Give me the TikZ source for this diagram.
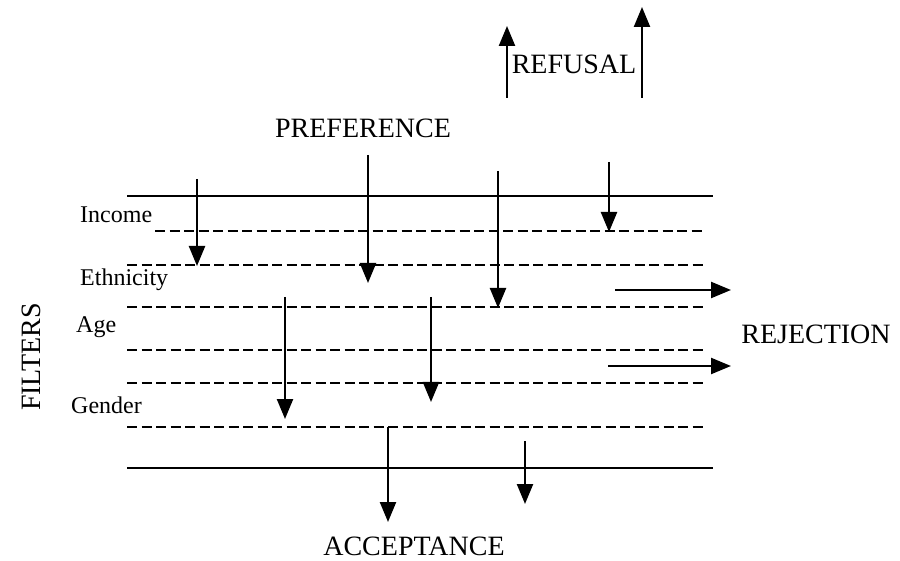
\documentclass[tikz,border=0pt]{standalone}
\usepackage{fontspec}
\setmainfont{Liberation Serif}
\usetikzlibrary{arrows.meta}
\begin{document}
\begin{tikzpicture}[x=1pt,y=-1pt,
  solidline/.style={line width=2.8pt},
  dashline/.style={line width=2.8pt,dash pattern=on 10pt off 4.5pt},
  flow/.style={line width=2.3pt,-{Triangle[length=20pt,width=16pt]}},
  biglabel/.style={font=\fontsize{28}{30}\selectfont,inner sep=0pt},
  filterlabel/.style={font=\fontsize{24}{26}\selectfont,inner sep=0pt,anchor=west}]
\useasboundingbox (0,0) rectangle (900,561);
% labels
\node[biglabel] (refusal) at (574,64) {REFUSAL};
\node[biglabel] (preference) at (363,128) {PREFERENCE};
\node[biglabel] (rejection) at (816,334) {REJECTION};
\node[biglabel] (acceptance) at (414,546) {ACCEPTANCE};
\node[biglabel,rotate=90] (filters) at (31,357) {FILTERS};
\node[filterlabel] (income) at (80,215) {Income};
\node[filterlabel] (ethnicity) at (80,280) {Ethnicity};
\node[filterlabel] (age) at (76,327) {Age};
\node[filterlabel] (gender) at (71,405) {Gender};
% filter lines
\coordinate (t1) at (127,196); \coordinate (t2) at (713,196);
\coordinate (b1) at (127,468); \coordinate (b2) at (713,468);
\draw[solidline] (t1) -- (t2);
\draw[solidline] (b1) -- (b2);
\coordinate (d1a) at (155,231); \coordinate (d1b) at (705,231);
\coordinate (d2a) at (127,265); \coordinate (d2b) at (705,265);
\coordinate (d3a) at (127,307); \coordinate (d3b) at (705,307);
\coordinate (d4a) at (127,350); \coordinate (d4b) at (705,350);
\coordinate (d5a) at (127,383); \coordinate (d5b) at (705,383);
\coordinate (d6a) at (127,427); \coordinate (d6b) at (705,427);
\foreach \d in {d1,d2,d3,d4,d5,d6} \draw[dashline] (\d a) -- (\d b);
% downward flow arrows
\coordinate (a1s) at (197,179); \coordinate (a1e) at (197,266);
\coordinate (a2s) at (368,155); \coordinate (a2e) at (368,283);
\coordinate (a3s) at (498,171); \coordinate (a3e) at (498,308);
\coordinate (a4s) at (609,162); \coordinate (a4e) at (609,232);
\coordinate (a5s) at (285,297); \coordinate (a5e) at (285,419);
\coordinate (a6s) at (431,297); \coordinate (a6e) at (431,402);
\coordinate (a7s) at (388,427); \coordinate (a7e) at (388,522);
\coordinate (a8s) at (525,441); \coordinate (a8e) at (525,504);
\foreach \a in {a1,a2,a3,a4,a5,a6,a7,a8} \draw[flow] (\a s) -- (\a e);
% refusal arrows
\coordinate (r1s) at (507,98); \coordinate (r1e) at (507,26);
\coordinate (r2s) at (642,98); \coordinate (r2e) at (642,7);
\draw[flow] (r1s) -- (r1e);
\draw[flow] (r2s) -- (r2e);
% rejection arrows
\coordinate (j1s) at (615,290); \coordinate (j1e) at (731,290);
\coordinate (j2s) at (608,366); \coordinate (j2e) at (731,366);
\draw[flow] (j1s) -- (j1e);
\draw[flow] (j2s) -- (j2e);
\end{tikzpicture}
\end{document}
